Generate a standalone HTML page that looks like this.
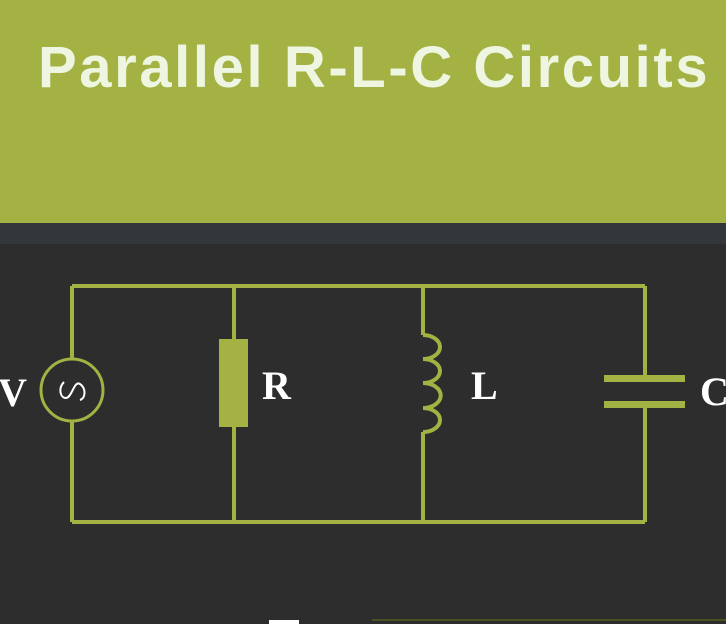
<!DOCTYPE html>
<html><head><style>
body{margin:0;width:726px;height:624px;overflow:hidden;background:#2d2d2d;position:relative;font-family:"Liberation Sans",sans-serif}
.hd{position:absolute;left:0;top:0;width:726px;height:223px;background:#a3b243}
.band{position:absolute;left:0;top:223px;width:726px;height:21px;background:#33363a}
.t{position:absolute;left:38px;top:34px;font-size:58px;font-weight:bold;color:#eef6e2;letter-spacing:2.6px;white-space:nowrap}
.lb{position:absolute;font-family:"Liberation Serif",serif;font-weight:bold;color:#fff;font-size:40px}
</style></head><body>
<div class="hd"></div><div class="band"></div>
<div class="t">Parallel R-L-C Circuits</div>
<svg width="726" height="624" style="position:absolute;left:0;top:0">
<g stroke="#a3b243" stroke-width="4" fill="none">
<path d="M72 286H645M72 522H645M72 286V359M72 421V522M234 286V522M423 286V335M423 432V522M645 286V378M645 405V522"/>
<path d="M423 335a17 12 0 0 1 0 24a17 12 0 0 1 0 24a17 12 0 0 1 0 25a17 12 0 0 1 0 24"/>
<circle cx="72" cy="390" r="31" stroke-width="3"/>
</g>
<rect x="219" y="339" width="29" height="88" fill="#a3b243"/>
<rect x="604" y="375" width="81" height="7" fill="#a3b243"/>
<rect x="604" y="401" width="81" height="7" fill="#a3b243"/>
<path d="M84 384c-2-6-12-6-16 0s14 8 14 14s-10 8-16 2" stroke="#fff" stroke-width="2" fill="none" transform="rotate(90 74 390)"/>
<rect x="269" y="620" width="30" height="4" fill="#fff"/>
<rect x="372" y="619" width="354" height="2" fill="#4a5020"/>
</svg>
<div class="lb" style="left:-2px;top:369px">V</div>
<div class="lb" style="left:262px;top:362px">R</div>
<div class="lb" style="left:471px;top:362px">L</div>
<div class="lb" style="left:700px;top:368px">C</div>
</body></html>
